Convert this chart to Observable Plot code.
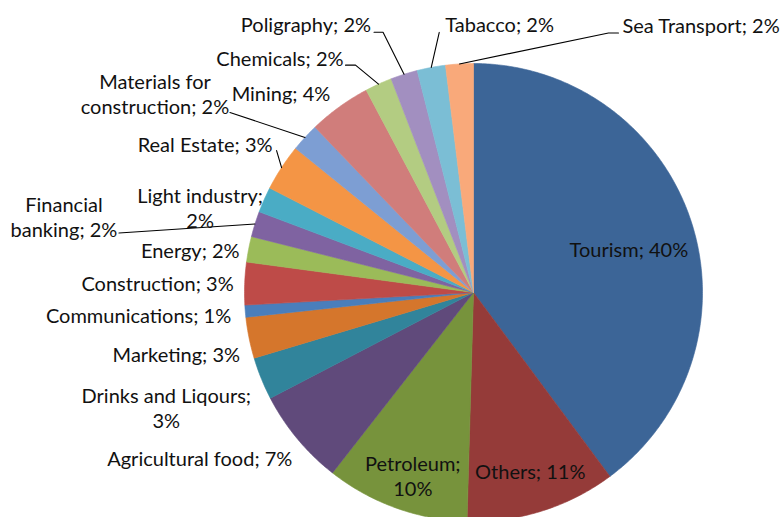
<!DOCTYPE html>
<html>
<head>
<meta charset="utf-8">
<script src="https://cdn.jsdelivr.net/npm/d3@7"></script>
<script src="https://cdn.jsdelivr.net/npm/@observablehq/plot@0.6"></script>
<style>
  html, body { margin: 0; padding: 0; background: #fff; }
  #chart svg { display: block; }
</style>
</head>
<body>
<div id="chart"></div>
<script>
// ---- data ----
const names = ["Tourism", "Others", "Petroleum", "Agricultural food", "Drinks and Liqours",
  "Marketing", "Communications", "Construction", "Energy", "Financial banking",
  "Light industry", "Real Estate", "Materials for construction", "Mining", "Chemicals",
  "Poligraphy", "Tabacco", "Sea Transport"];
const values = [39.8, 10.6, 10.1, 6.8, 3.0, 2.9, 0.85, 3.0, 1.8, 1.8, 1.8, 3.3, 2.0, 4.4, 1.9, 1.9, 2.0, 1.95];
const pctLabels = ["40%", "11%", "10%", "7%", "3%", "3%", "1%", "3%", "2%", "2%", "2%", "3%", "2%", "4%", "2%", "2%", "2%", "2%"];
const labelTexts = ["Tourism; 40%", "Others; 11%", "Petroleum;\n10%", "Agricultural food; 7%",
  "Drinks and Liqours;\n3%", "Marketing; 3%", "Communications; 1%", "Construction; 3%",
  "Energy; 2%", "Financial\nbanking; 2%", "Light industry;\n2%", "Real Estate; 3%",
  "Materials for\nconstruction; 2%", "Mining; 4%", "Chemicals; 2%", "Poligraphy; 2%",
  "Tabacco; 2%", "Sea Transport; 2%"];
const colors = ["#3C6597", "#953B39", "#77933C", "#604A7B", "#31849B", "#D5762C", "#4A7EBB",
  "#BE4B48", "#9BBB59", "#7F63A1", "#4AACC5", "#F49545", "#7D9ED3", "#D07D7B", "#B3CC82",
  "#A28FC0", "#7BBED5", "#F9A97A"];

// ---- layout (pixel offsets of label from the slice's outer mid-point) ----
const labelLayout = [
  {anchor: "middle", dx: -62, dy: 28},
  {anchor: "middle", dx: -12, dy: -40},
  {anchor: "middle", dx: 17, dy: -32},
  {anchor: "end", dx: -5, dy: 19},
  {anchor: "middle", dx: -95, dy: 29},
  {anchor: "end", dx: -9, dy: 16},
  {anchor: "end", dx: -14, dy: 4},
  {anchor: "end", dx: -11, dy: -1},
  {anchor: "end", dx: -9, dy: 1},
  {anchor: "middle", dx: -191, dy: -8, leader: [[-136, 9]]},
  {anchor: "middle", dx: -64, dy: 8},
  {anchor: "end", dx: -9, dy: -24, leader: [[-5, -17]]},
  {anchor: "middle", dx: -150, dy: -44, leader: [[-75, -25]]},
  {anchor: "end", dx: -9, dy: -14},
  {anchor: "end", dx: -35, dy: -26, leader: [[-33, -19], [-23, -19]]},
  {anchor: "end", dx: -33, dy: -50, leader: [[-30, -42], [-21, -42]]},
  {anchor: "start", dx: 14, dy: -43, leader: [[8, -35]]},
  {anchor: "start", dx: 163, dy: -39, leader: [[159, -31], [149, -31]]}
];

const W = 780, H = 517, R = 229, CX = 473, CY = 292;

const arcs = d3.pie().sort(null).value(d => d)(values);

// slice polygons
const slicePts = [];
arcs.forEach((a, i) => {
  slicePts.push({name: names[i], x: 0, y: 0});
  const n = Math.max(4, Math.ceil((a.endAngle - a.startAngle) / 0.01));
  for (let k = 0; k <= n; k++) {
    const t = a.startAngle + (a.endAngle - a.startAngle) * k / n;
    slicePts.push({name: names[i], x: Math.sin(t), y: Math.cos(t)});
  }
  slicePts.push({name: names[i], x: 0, y: 0});
});

// labels and leaders
const labels = [];
const leaders = [];
arcs.forEach((a, i) => {
  const m = (a.startAngle + a.endAngle) / 2;
  const ax = Math.sin(m), ay = Math.cos(m);
  const L = labelLayout[i];
  labels.push({text: labelTexts[i], anchor: L.anchor, x: ax + L.dx / R, y: ay - L.dy / R});
  if (L.leader) {
    L.leader.forEach(p => leaders.push({id: i, x: ax + p[0] / R, y: ay - p[1] / R}));
    leaders.push({id: i, x: ax, y: ay});
  }
});

const textOpts = {x: "x", y: "y", text: "text", fontSize: 20, fontFamily: "Lato", lineHeight: 1.25, fill: "#111"};

const chart = Plot.plot({
  width: W, height: H,
  marginTop: 0, marginRight: 0, marginBottom: 0, marginLeft: 0,
  x: {domain: [-1, 1], range: [CX - R, CX + R], axis: null},
  y: {domain: [-1, 1], range: [CY + R, CY - R], axis: null},
  color: {domain: names, range: colors, type: "ordinal"},
  style: {background: "#fff", overflow: "visible"},
  marks: [
    Plot.line(slicePts, {x: "x", y: "y", z: "name", fill: "name", stroke: "name", strokeWidth: 0.6, curve: "linear"}),
    Plot.line(leaders, {x: "x", y: "y", z: "id", stroke: "#000", strokeWidth: 1.1}),
    Plot.text(labels.filter(d => d.anchor === "end"), {...textOpts, textAnchor: "end"}),
    Plot.text(labels.filter(d => d.anchor === "start"), {...textOpts, textAnchor: "start"}),
    Plot.text(labels.filter(d => d.anchor === "middle"), {...textOpts, textAnchor: "middle"})
  ]
});
document.getElementById("chart").appendChild(chart);
</script>
</body>
</html>
